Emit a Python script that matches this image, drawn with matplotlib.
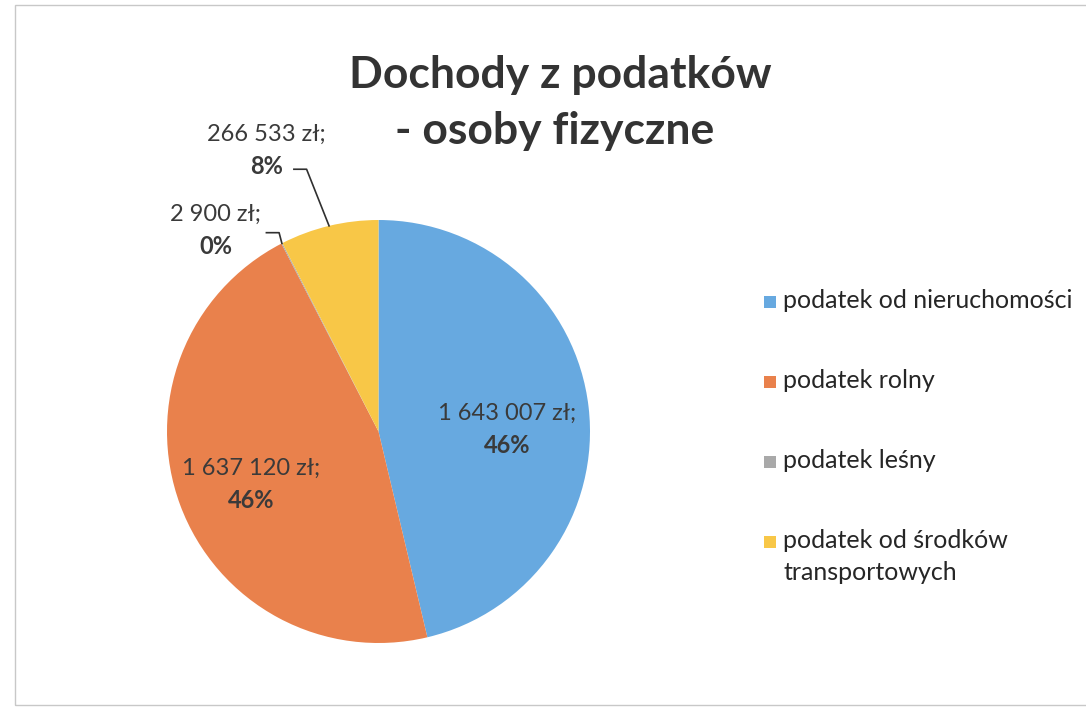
import numpy as np
import matplotlib.pyplot as plt
from matplotlib.patches import Rectangle

# dane z wykresu
categories = ['podatek od nieruchomości', 'podatek rolny', 'podatek leśny',
              'podatek od środków\ntransportowych']
values = [1643007, 1637120, 2900, 266533]
value_labels = ['1 643 007 zł;', '1 637 120 zł;', '2 900 zł;', '266 533 zł;']
colors = ['#67a9e0', '#e9814c', '#a9a9a9', '#f8c747']

plt.rcParams['font.family'] = ['Lato', 'DejaVu Sans']
txt_color = '#3a3a3a'
W, H = 1086, 710

fig = plt.figure(figsize=(10.86, 7.10), dpi=100)
ax = fig.add_axes([165 / W, 1 - 643 / H, 427 / W, 423 / H])

wedges, _ = ax.pie(values, colors=colors, startangle=90, counterclock=False,
                   radius=1, wedgeprops=dict(linewidth=0))
ax.set_aspect('equal')
ax.set_xlim(-1, 1)
ax.set_ylim(-1, 1)

total = sum(values)
pcts = [f'{round(v / total * 100):.0f}%' for v in values]

# etykiety wewnątrz (duże wycinki)
inside = {0: (0.61, 0.01), 1: (-0.60, -0.25)}
for i, (x, y) in inside.items():
    ax.text(x, y + 0.075, value_labels[i], ha='center', va='center', fontsize=17, color=txt_color)
    ax.text(x, y - 0.075, pcts[i], ha='center', va='center', fontsize=17,
            fontweight='bold', color=txt_color)

# etykiety zewnętrzne z liniami
outside = {2: (-0.77, 0.95), 3: (-0.53, 1.33)}
for i, (x, y) in outside.items():
    ax.text(x, y + 0.075, value_labels[i], ha='center', va='center', fontsize=17,
            color=txt_color, clip_on=False)
    ax.text(x, y - 0.075, pcts[i], ha='center', va='center', fontsize=17,
            fontweight='bold', color=txt_color, clip_on=False)
    w = wedges[i]
    ang = np.deg2rad((w.theta1 + w.theta2) / 2)
    ex, ey = np.cos(ang), np.sin(ang)
    if i == 2:
        sx, sy = -0.47, 0.94
    else:
        sx, sy = -0.34, 1.24
    ax.plot([sx - 0.06, sx, ex], [sy, sy, ey], color='#303030', lw=1.2, clip_on=False)

fig.text(560 / W, 1 - 75 / H, 'Dochody z podatków', ha='center', va='center', fontsize=32,
         fontweight='bold', color='#333333')
fig.text(555 / W, 1 - 131 / H, '- osoby fizyczne', ha='center', va='center', fontsize=32,
         fontweight='bold', color='#333333')

# legenda
row_y = [302, 382, 462, 542]
for lab, col, ry in zip(categories, colors, row_y):
    fig.patches.append(Rectangle((764 / W, 1 - (ry + 6) / H), 12 / W, 12 / H,
                                 transform=fig.transFigure, color=col, lw=0))
    fig.text(783 / W, 1 - (ry - 13) / H, lab, ha='left', va='top', fontsize=18,
             color='#262626', linespacing=1.45)

fig.patches.append(Rectangle((15 / W, 5 / H), 1.1, 1 - 10 / H, transform=fig.transFigure,
                             fill=False, edgecolor='#c8c8c8', lw=1))

fig.savefig('out.png', dpi=100, facecolor='white')
